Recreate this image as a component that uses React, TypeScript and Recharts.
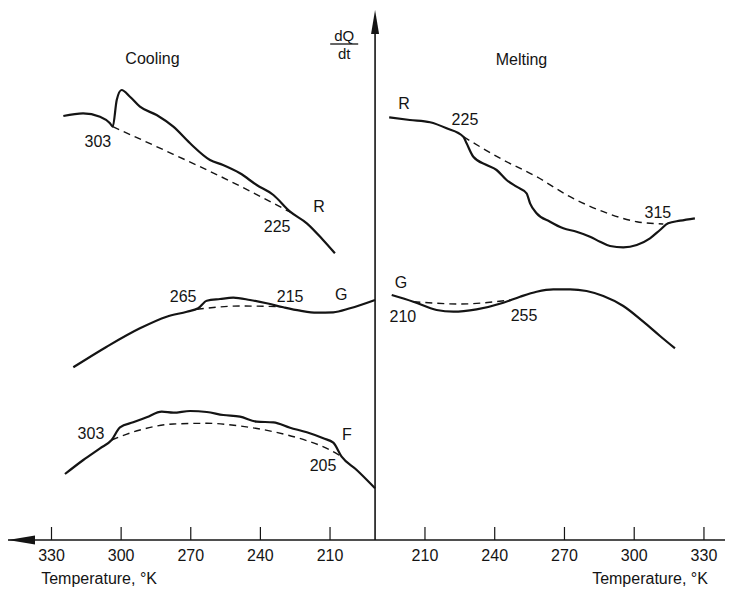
import React from "react";
import { LineChart, Line, XAxis, YAxis, ReferenceLine, ReferenceDot } from "recharts";

interface Pt {
  t: number; // temperature, K
  y: number; // dQ/dt, arbitrary units
}

interface Note {
  t: number;
  y: number;
  text: string;
}

const tempTicks = [210, 240, 270, 300, 330];

// Cooling curves (temperature falls from left to right)
const coolR: Pt[] = [
  { t: 324.9, y: 424 }, { t: 316.4, y: 426.7 }, { t: 309.1, y: 423.3 }, { t: 304.8, y: 416.7 },
  { t: 303.6, y: 413.3 }, { t: 301.9, y: 440 }, { t: 299.8, y: 450 }, { t: 296.2, y: 443.3 },
  { t: 291.9, y: 433.3 }, { t: 284.7, y: 425 }, { t: 277.5, y: 413.3 }, { t: 270.3, y: 396.7 },
  { t: 261.7, y: 380 }, { t: 256.1, y: 375 }, { t: 248.8, y: 366.7 }, { t: 241.6, y: 355 },
  { t: 234.4, y: 345 }, { t: 227.2, y: 328.3 }, { t: 220.0, y: 316.7 }, { t: 213.0, y: 300 },
  { t: 207.9, y: 286.7 },
];
const coolRBase: Pt[] = [
  { t: 303.6, y: 413.3 }, { t: 277.5, y: 385.7 }, { t: 266.0, y: 373.3 }, { t: 248.8, y: 354 },
  { t: 226.5, y: 327 },
];

const coolG: Pt[] = [
  { t: 320.6, y: 172.7 }, { t: 306.2, y: 193.3 }, { t: 291.9, y: 211.7 }, { t: 280.4, y: 223.3 },
  { t: 271.7, y: 228.3 }, { t: 266.8, y: 231.7 }, { t: 263.1, y: 239.3 }, { t: 257.4, y: 241 },
  { t: 251.7, y: 242.3 }, { t: 244.5, y: 240 }, { t: 237.3, y: 236.7 }, { t: 230.1, y: 232.7 },
  { t: 222.9, y: 229.3 }, { t: 215.7, y: 227.3 }, { t: 208.6, y: 227.7 }, { t: 201.4, y: 231.7 },
  { t: 190.6, y: 240 },
];
const coolGBase: Pt[] = [
  { t: 267.4, y: 230.7 }, { t: 248.8, y: 234 }, { t: 231.6, y: 233.3 },
];

const coolF: Pt[] = [
  { t: 324.2, y: 66 }, { t: 316.3, y: 80 }, { t: 309.1, y: 91.7 }, { t: 304.1, y: 100 },
  { t: 300.5, y: 112.7 }, { t: 294.8, y: 117.7 }, { t: 289.0, y: 122.7 }, { t: 282.5, y: 128.3 },
  { t: 277.5, y: 127.3 }, { t: 270.3, y: 129 }, { t: 263.1, y: 128 }, { t: 256.0, y: 125 },
  { t: 248.8, y: 123.3 }, { t: 241.6, y: 118.3 }, { t: 234.4, y: 117.7 }, { t: 227.2, y: 112.3 },
  { t: 220.0, y: 107.7 }, { t: 212.9, y: 101.7 }, { t: 208.6, y: 97.3 }, { t: 205.0, y: 83.3 },
  { t: 198.5, y: 70 }, { t: 190.6, y: 51.7 },
];
const coolFBase: Pt[] = [
  { t: 304.1, y: 100 }, { t: 291.9, y: 110 }, { t: 277.5, y: 116 }, { t: 263.1, y: 116.7 },
  { t: 248.8, y: 114 }, { t: 234.4, y: 108.3 }, { t: 220.0, y: 99.3 }, { t: 211.4, y: 91.7 },
  { t: 205.0, y: 83.3 },
];

// Melting curves (temperature rises from left to right)
const meltR: Pt[] = [
  { t: 194.6, y: 422.7 }, { t: 203.5, y: 420 }, { t: 212.2, y: 417.7 }, { t: 219.3, y: 411.7 },
  { t: 226.5, y: 403.3 }, { t: 227.9, y: 396.7 }, { t: 230.8, y: 383.3 }, { t: 236.5, y: 375 },
  { t: 240.8, y: 370 }, { t: 245.1, y: 360 }, { t: 249.4, y: 353.3 }, { t: 253.7, y: 346.7 },
  { t: 255.2, y: 336.7 }, { t: 258.0, y: 326.7 }, { t: 263.8, y: 318.3 }, { t: 269.5, y: 311.7 },
  { t: 275.2, y: 308.3 }, { t: 281.0, y: 303.3 }, { t: 285.3, y: 298.3 }, { t: 289.6, y: 294 },
  { t: 295.3, y: 292.7 }, { t: 301.1, y: 295 }, { t: 306.8, y: 301.7 }, { t: 311.1, y: 310 },
  { t: 314.6, y: 316.7 }, { t: 319.7, y: 319.3 }, { t: 326.1, y: 321.7 },
];
const meltRBase: Pt[] = [
  { t: 226.5, y: 403.3 }, { t: 243.7, y: 380 }, { t: 258.0, y: 363.3 }, { t: 272.4, y: 343.3 },
  { t: 286.7, y: 328.3 }, { t: 301.1, y: 318.3 }, { t: 312.5, y: 316 },
];

const meltG: Pt[] = [
  { t: 195.7, y: 245 }, { t: 205.0, y: 238.3 }, { t: 215.0, y: 230 }, { t: 222.2, y: 228.3 },
  { t: 232.2, y: 230.7 }, { t: 243.7, y: 237.3 }, { t: 250.9, y: 243.3 }, { t: 258.0, y: 248.3 },
  { t: 265.2, y: 250.7 }, { t: 272.4, y: 250.7 }, { t: 279.5, y: 249 }, { t: 286.7, y: 244 },
  { t: 295.3, y: 234 }, { t: 303.9, y: 218.3 }, { t: 311.1, y: 204 }, { t: 317.5, y: 191.7 },
];
const meltGBase: Pt[] = [
  { t: 205.0, y: 238.3 }, { t: 225.1, y: 236 }, { t: 246.6, y: 240 },
];

// temperature marks written next to the curves
const coolNotes: Note[] = [
  { t: 310.0, y: 399, text: "303" },
  { t: 214.7, y: 334, text: "R" },
  { t: 232.8, y: 314, text: "225" },
  { t: 273.3, y: 244, text: "265" },
  { t: 227.2, y: 244, text: "215" },
  { t: 205.2, y: 246, text: "G" },
  { t: 313.0, y: 107, text: "303" },
  { t: 202.7, y: 106, text: "F" },
  { t: 213.0, y: 75, text: "205" },
];
const meltNotes: Note[] = [
  { t: 201.0, y: 437, text: "R" },
  { t: 227.2, y: 421, text: "225" },
  { t: 310.2, y: 328, text: "315" },
  { t: 199.7, y: 258, text: "G" },
  { t: 200.5, y: 224, text: "210" },
  { t: 252.6, y: 225, text: "255" },
];

const INK = "#141414";
const FONT = "'Liberation Sans', Arial, sans-serif";
const COOL_DOMAIN = [39.84, 348.74];
const MELT_DOMAIN = [30.65, 339.05];
const AXIS_T = 190.6; // where the dQ/dt axis stands, on the cooling scale

const textShape = (text: string, size = 16) => (p: any) => (
  <text x={p.cx} y={p.cy} dy="0.36em" textAnchor="middle" fontFamily={FONT} fontSize={size} fill={INK}>
    {text}
  </text>
);

const leftArrow = (p: any) => (
  <path d={`M${p.cx},${p.cy} L${p.cx + 27},${p.cy - 4.5} L${p.cx + 27},${p.cy + 4.5} Z`} fill={INK} />
);

const upArrow = (p: any) => (
  <path d={`M${p.cx},${p.cy} L${p.cx - 4},${p.cy + 24} L${p.cx + 4},${p.cy + 24} Z`} fill={INK} />
);

const fraction = (p: any) => (
  <g fontFamily={FONT} fontSize={15} fill={INK} textAnchor="middle">
    <text x={p.cx} y={p.cy - 3}>dQ</text>
    <line x1={p.cx - 14} x2={p.cx + 14} y1={p.cy} y2={p.cy} stroke={INK} strokeWidth={1.3} />
    <text x={p.cx} y={p.cy + 15}>dt</text>
  </g>
);

const solid = { stroke: INK, strokeWidth: 2.2, dot: false, activeDot: false, isAnimationActive: false } as const;
const dashed = { ...solid, strokeWidth: 1.4, strokeDasharray: "7 5" } as const;

export default function App() {
  return (
    <div style={{ position: "absolute", left: 0, top: 0, background: "#fff" }}>
      <LineChart width={732} height={591} margin={{ top: 8, right: 7, bottom: 49, left: 8 }}>
        <XAxis
          xAxisId="cool"
          type="number"
          dataKey="t"
          domain={COOL_DOMAIN}
          reversed
          allowDataOverflow
          ticks={tempTicks}
          interval={0}
          height={1}
          tickLine={false}
          tickMargin={4}
          axisLine={{ stroke: INK, strokeWidth: 1.6 }}
          tick={{ fontFamily: FONT, fontSize: 16, fill: INK }}
        />
        <XAxis
          xAxisId="melt"
          type="number"
          dataKey="t"
          domain={MELT_DOMAIN}
          allowDataOverflow
          ticks={tempTicks}
          interval={0}
          height={1}
          tickLine={false}
          tickMargin={3}
          axisLine={false}
          tick={{ fontFamily: FONT, fontSize: 16, fill: INK }}
        />
        <YAxis type="number" domain={[0, 532]} allowDataOverflow hide />

        {tempTicks.map((t) => (
          <ReferenceLine key={"ct" + t} xAxisId="cool" segment={[{ x: t, y: 0 }, { x: t, y: 13 }]} stroke={INK} strokeWidth={1.2} />
        ))}
        {tempTicks.map((t) => (
          <ReferenceLine key={"mt" + t} xAxisId="melt" segment={[{ x: t, y: 0 }, { x: t, y: 13 }]} stroke={INK} strokeWidth={1.2} />
        ))}
        <ReferenceLine xAxisId="cool" segment={[{ x: AXIS_T, y: 0 }, { x: AXIS_T, y: 510 }]} stroke={INK} strokeWidth={1.6} />
        <ReferenceDot xAxisId="cool" x={AXIS_T} y={530} r={0} ifOverflow="visible" shape={upArrow} />
        <ReferenceDot xAxisId="cool" x={COOL_DOMAIN[1]} y={0} r={0} ifOverflow="visible" shape={leftArrow} />

        <Line xAxisId="cool" data={coolRBase} dataKey="y" type="monotone" {...dashed} />
        <Line xAxisId="cool" data={coolR} dataKey="y" type="monotone" {...solid} />
        <Line xAxisId="cool" data={coolGBase} dataKey="y" type="monotone" {...dashed} />
        <Line xAxisId="cool" data={coolG} dataKey="y" type="monotone" {...solid} />
        <Line xAxisId="cool" data={coolFBase} dataKey="y" type="monotone" {...dashed} />
        <Line xAxisId="cool" data={coolF} dataKey="y" type="monotone" {...solid} />
        <Line xAxisId="melt" data={meltRBase} dataKey="y" type="monotone" {...dashed} />
        <Line xAxisId="melt" data={meltR} dataKey="y" type="monotone" {...solid} />
        <Line xAxisId="melt" data={meltGBase} dataKey="y" type="monotone" {...dashed} />
        <Line xAxisId="melt" data={meltG} dataKey="y" type="monotone" {...solid} />

        {coolNotes.map((n, i) => (
          <ReferenceDot key={"cn" + i} xAxisId="cool" x={n.t} y={n.y} r={0} ifOverflow="visible" shape={textShape(n.text)} />
        ))}
        {meltNotes.map((n, i) => (
          <ReferenceDot key={"mn" + i} xAxisId="melt" x={n.t} y={n.y} r={0} ifOverflow="visible" shape={textShape(n.text)} />
        ))}

        <ReferenceDot xAxisId="cool" x={286.5} y={482} r={0} ifOverflow="visible" shape={textShape("Cooling")} />
        <ReferenceDot xAxisId="melt" x={251.5} y={481} r={0} ifOverflow="visible" shape={textShape("Melting")} />
        <ReferenceDot xAxisId="cool" x={203.9} y={496} r={0} ifOverflow="visible" shape={fraction} />
        <ReferenceDot xAxisId="cool" x={309.5} y={-38} r={0} ifOverflow="visible" shape={textShape("Temperature, °K")} />
        <ReferenceDot xAxisId="melt" x={306.8} y={-38} r={0} ifOverflow="visible" shape={textShape("Temperature, °K")} />
      </LineChart>
    </div>
  );
}
